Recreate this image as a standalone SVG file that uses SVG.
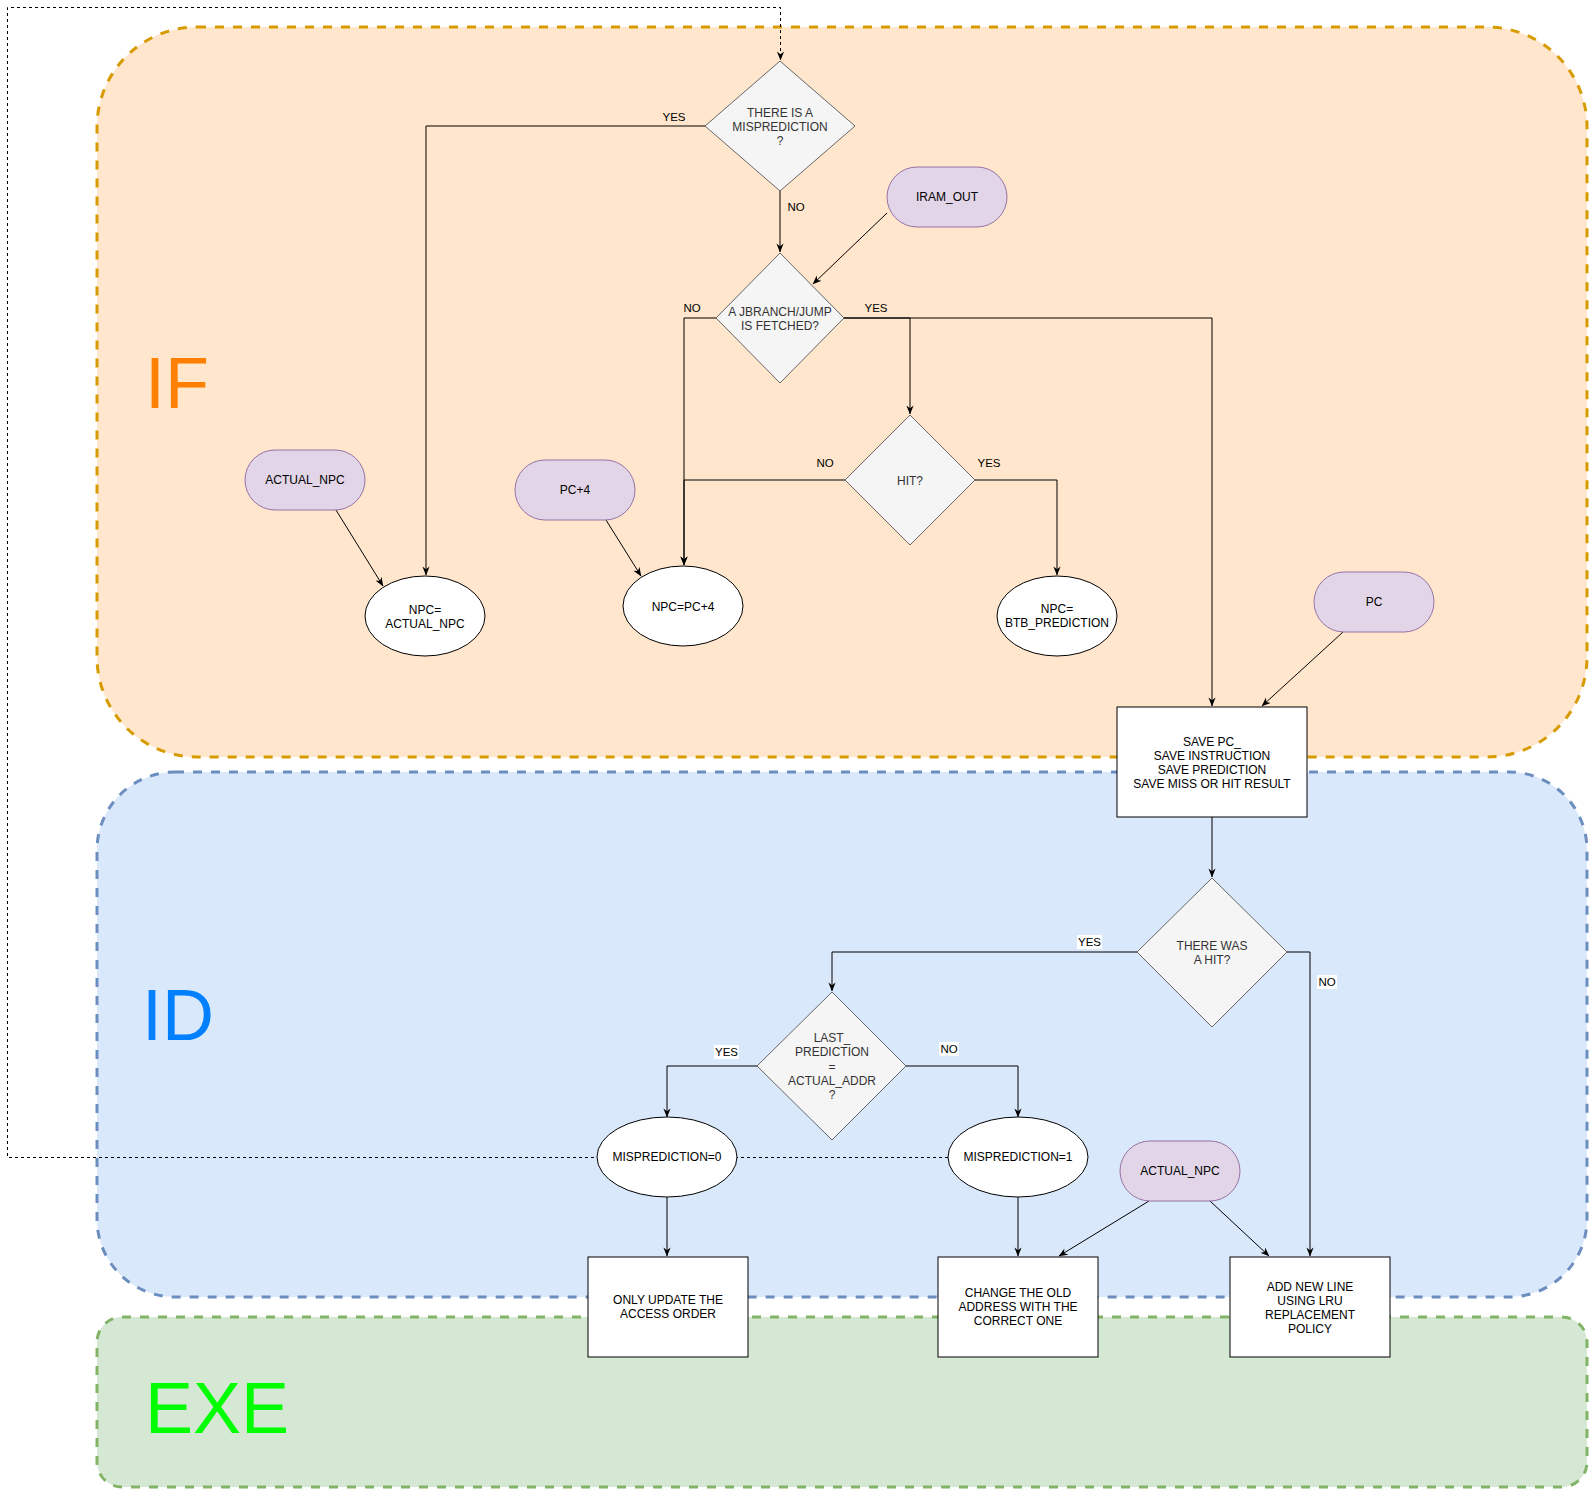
<svg xmlns="http://www.w3.org/2000/svg" width="1592" height="1490" viewBox="0 0 1592 1490">
<style>
text{font-family:"Liberation Sans",Arial,Helvetica,sans-serif;}
.t{font-size:12px;fill:#000;text-anchor:middle;dominant-baseline:central;}
.dt{font-size:12px;fill:#333;text-anchor:middle;dominant-baseline:central;}
.lbl{font-size:11.5px;fill:#000;text-anchor:middle;dominant-baseline:central;}
.big{font-size:72px;}
.dia{fill:#f5f5f5;stroke:#666;stroke-width:1;}
.pill{fill:#e1d5e7;stroke:#9673a6;stroke-width:1;}
.ell{fill:#fff;stroke:#000;stroke-width:1;}
.box{fill:#fff;stroke:#000;stroke-width:1;}
.e{fill:none;stroke:#000;stroke-width:1;marker-end:url(#arr);}
.dot{fill:none;stroke:#000;stroke-width:1;stroke-dasharray:3 3;marker-end:url(#arr);}
.lb{fill:#fff;}
</style>
<defs>
<marker id="arr" viewBox="0 0 10 10" refX="9.5" refY="5" markerWidth="9" markerHeight="9" markerUnits="userSpaceOnUse" orient="auto">
<path d="M0,1 L10,5 L0,9 L3,5 z" fill="#000"/>
</marker>
</defs>

<g id="containers">
<g id="stage-if">
<rect x="97" y="27" width="1490" height="730" rx="100" ry="100" fill="#ffe6cc" stroke="#d79b00" stroke-width="3" stroke-dasharray="9 9"/>
<text x="145" y="408" class="big" fill="#ff8000">IF</text>
</g>
<g id="stage-id">
<rect x="97" y="772" width="1490" height="525" rx="78" ry="78" fill="#dae8fc" stroke="#6c8ebf" stroke-width="3" stroke-dasharray="9 9"/>
<text x="142" y="1040" class="big" fill="#007fff">ID</text>
</g>
<g id="stage-exe">
<rect x="97" y="1317" width="1490" height="170" rx="25" ry="25" fill="#d5e8d4" stroke="#82b366" stroke-width="3" stroke-dasharray="9 9"/>
<text x="145" y="1433" class="big" fill="#00ff00">EXE</text>
</g>
</g>

<g id="connectors">
<path class="dot" d="M948,1157.5 L7.5,1157.5 L7.5,7.5 L780.5,7.5 L780.5,60"/>
<path class="e" d="M706,126 L426,126 L426,575"/>
<text class="lbl" x="674" y="117">YES</text>
<path class="e" d="M780,191 L780,252"/>
<text class="lbl" x="796" y="207">NO</text>
<path class="e" d="M887,213 L813,284"/>
<path class="e" d="M716,318 L684,318 L684,565"/>
<text class="lbl" x="692" y="308">NO</text>
<path class="e" d="M844,318 L1212,318 L1212,706"/>
<path class="e" d="M844,318 L910,318 L910,414"/>
<text class="lbl" x="876" y="308">YES</text>
<path class="e" d="M845,480 L684,480 L684,565"/>
<text class="lbl" x="825" y="463">NO</text>
<path class="e" d="M975,480 L1057,480 L1057,575"/>
<text class="lbl" x="989" y="463">YES</text>
<path class="e" d="M336,510 L383,586"/>
<path class="e" d="M606,520 L641,576"/>
<path class="e" d="M1343,632 L1262,706"/>
<path class="e" d="M1212,817 L1212,877"/>
<path class="e" d="M1137,952 L832,952 L832,991"/>
<rect class="lb" x="1077" y="935" width="25" height="14"/>
<text class="lbl" x="1089.5" y="942">YES</text>
<path class="e" d="M1287,952 L1310,952 L1310,1256"/>
<rect class="lb" x="1317" y="975" width="20" height="14"/>
<text class="lbl" x="1327" y="982">NO</text>
<path class="e" d="M757,1066 L667,1066 L667,1117"/>
<rect class="lb" x="714" y="1045" width="25" height="14"/>
<text class="lbl" x="726.5" y="1052">YES</text>
<path class="e" d="M906,1066 L1018,1066 L1018,1117"/>
<rect class="lb" x="939" y="1042" width="20" height="14"/>
<text class="lbl" x="949" y="1049">NO</text>
<path class="e" d="M667,1197 L667,1256"/>
<path class="e" d="M1018,1197 L1018,1256"/>
<path class="e" d="M1149,1201 L1059,1256"/>
<path class="e" d="M1210,1201 L1269,1256"/>
</g>

<g id="n-mispred-check">
<polygon class="dia" points="780,61 855,126 780,191 705,126"/>
<text class="dt" x="780" y="113">THERE IS A</text>
<text class="dt" x="780" y="127">MISPREDICTION</text>
<text class="dt" x="780" y="141">?</text>
</g>
<g id="n-jbranch">
<polygon class="dia" points="780,253 844,318 780,383 716,318"/>
<text class="dt" x="780" y="312">A JBRANCH/JUMP</text>
<text class="dt" x="780" y="326">IS FETCHED?</text>
</g>
<g id="n-iram-out">
<rect class="pill" x="887" y="167" width="120" height="60" rx="30" ry="30"/>
<text class="t" x="947" y="197">IRAM_OUT</text>
</g>
<g id="n-actual-npc-if">
<rect class="pill" x="245" y="450" width="120" height="60" rx="30" ry="30"/>
<text class="t" x="305" y="480">ACTUAL_NPC</text>
</g>
<g id="n-npc-actual">
<ellipse class="ell" cx="425" cy="616" rx="60" ry="40"/>
<text class="t" x="425" y="610">NPC=</text>
<text class="t" x="425" y="624">ACTUAL_NPC</text>
</g>
<g id="n-pc4">
<rect class="pill" x="515" y="460" width="120" height="60" rx="30" ry="30"/>
<text class="t" x="575" y="490">PC+4</text>
</g>
<g id="n-npc-pc4">
<ellipse class="ell" cx="683" cy="606" rx="60" ry="40"/>
<text class="t" x="683" y="607">NPC=PC+4</text>
</g>
<g id="n-hit">
<polygon class="dia" points="910,415 975,480 910,545 845,480"/>
<text class="dt" x="910" y="481">HIT?</text>
</g>
<g id="n-npc-btb">
<ellipse class="ell" cx="1057" cy="616" rx="60" ry="40"/>
<text class="t" x="1057" y="609">NPC=</text>
<text class="t" x="1057" y="623">BTB_PREDICTION</text>
</g>
<g id="n-pc">
<rect class="pill" x="1314" y="572" width="120" height="60" rx="30" ry="30"/>
<text class="t" x="1374" y="602">PC</text>
</g>
<g id="n-save">
<rect class="box" x="1117" y="707" width="190" height="110"/>
<text class="t" x="1212" y="742">SAVE PC_</text>
<text class="t" x="1212" y="756">SAVE INSTRUCTION</text>
<text class="t" x="1212" y="770">SAVE PREDICTION</text>
<text class="t" x="1212" y="784">SAVE MISS OR HIT RESULT</text>
</g>
<g id="n-was-hit">
<polygon class="dia" points="1212,878 1287,952 1212,1027 1137,952"/>
<text class="dt" x="1212" y="946">THERE WAS</text>
<text class="dt" x="1212" y="960">A HIT?</text>
</g>
<g id="n-last-pred">
<polygon class="dia" points="832,992 906,1066 832,1140 757,1066"/>
<text class="dt" x="832" y="1038">LAST_</text>
<text class="dt" x="832" y="1052">PREDICTION</text>
<text class="dt" x="832" y="1067">=</text>
<text class="dt" x="832" y="1081">ACTUAL_ADDR</text>
<text class="dt" x="832" y="1095">?</text>
</g>
<g id="n-mispred0">
<ellipse class="ell" cx="667" cy="1157" rx="70" ry="40"/>
<text class="t" x="667" y="1157">MISPREDICTION=0</text>
</g>
<g id="n-mispred1">
<ellipse class="ell" cx="1018" cy="1157" rx="70" ry="40"/>
<text class="t" x="1018" y="1157">MISPREDICTION=1</text>
</g>
<g id="n-actual-npc-id">
<rect class="pill" x="1120" y="1141" width="120" height="60" rx="30" ry="30"/>
<text class="t" x="1180" y="1171">ACTUAL_NPC</text>
</g>
<g id="n-only-update">
<rect class="box" x="588" y="1257" width="160" height="100"/>
<text class="t" x="668" y="1300">ONLY UPDATE THE</text>
<text class="t" x="668" y="1314">ACCESS ORDER</text>
</g>
<g id="n-change">
<rect class="box" x="938" y="1257" width="160" height="100"/>
<text class="t" x="1018" y="1293">CHANGE THE OLD</text>
<text class="t" x="1018" y="1307">ADDRESS WITH THE</text>
<text class="t" x="1018" y="1321">CORRECT ONE</text>
</g>
<g id="n-add-line">
<rect class="box" x="1230" y="1257" width="160" height="100"/>
<text class="t" x="1310" y="1287">ADD NEW LINE</text>
<text class="t" x="1310" y="1301">USING LRU</text>
<text class="t" x="1310" y="1315">REPLACEMENT</text>
<text class="t" x="1310" y="1329">POLICY</text>
</g>
</svg>
